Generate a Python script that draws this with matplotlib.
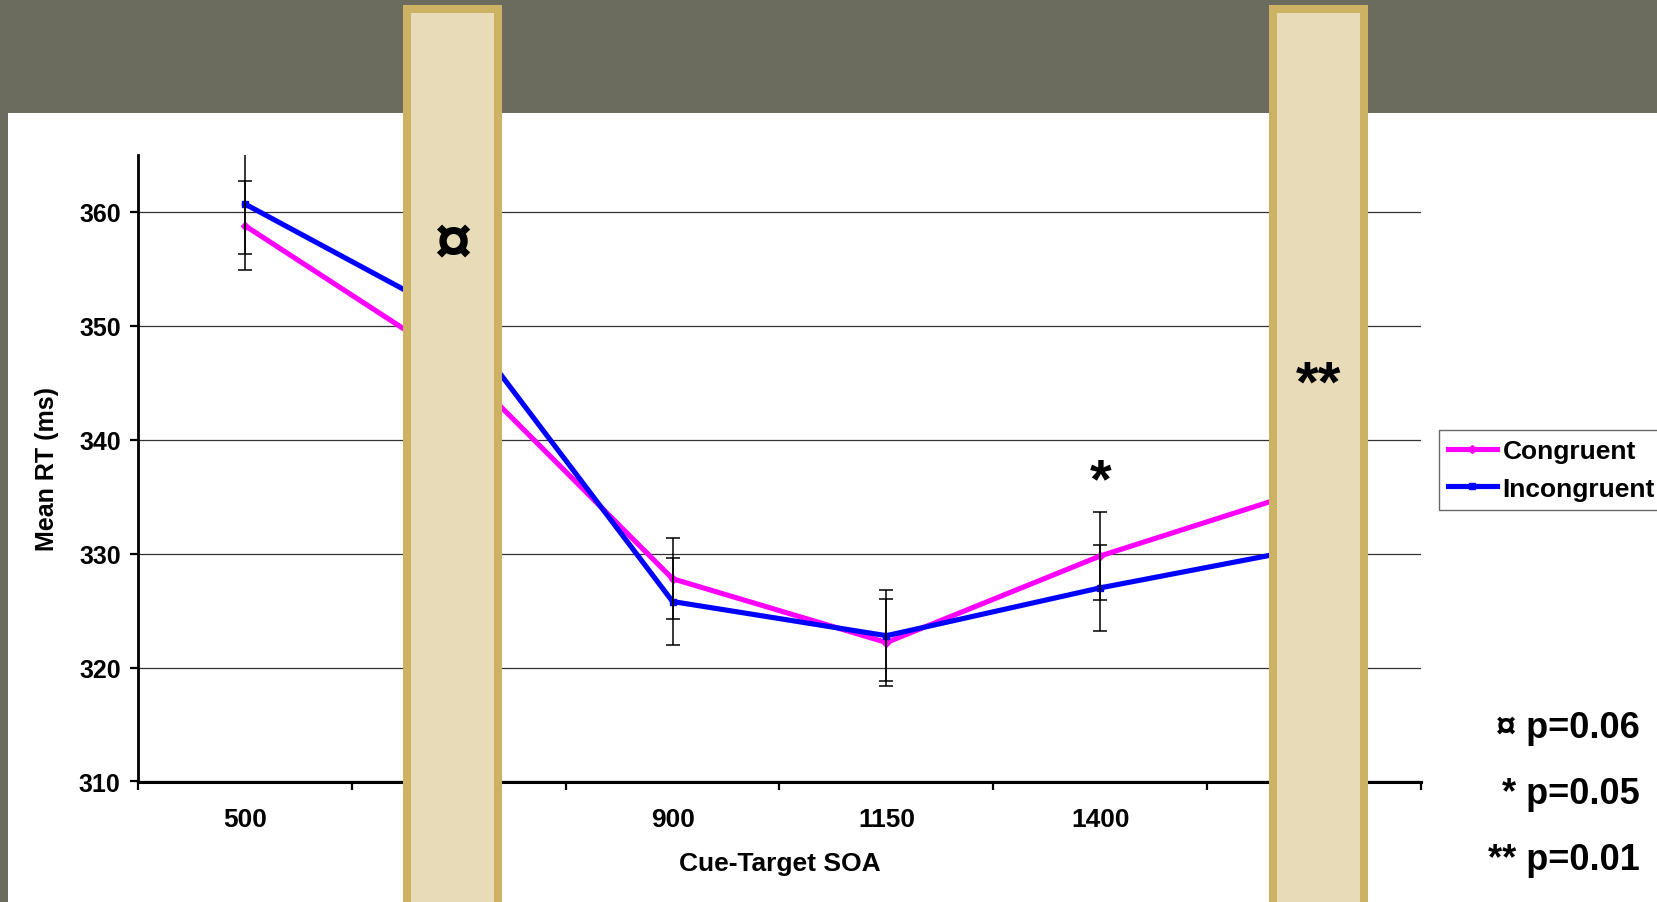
import matplotlib
matplotlib.use("Agg")
import matplotlib.pyplot as plt
from matplotlib.patches import Rectangle
from matplotlib.ticker import FixedLocator, NullFormatter

plt.rcParams["font.family"] = ["Liberation Sans", "DejaVu Sans"]
plt.rcParams["font.weight"] = "bold"

# Mean reaction times (ms) per cue-target SOA
soa_labels = ["500", "650", "900", "1150", "1400", "1650"]
congruent = [358.8, 346.6, 327.8, 322.2, 329.8, 335.8]
incongruent = [360.7, 350.6, 325.8, 322.8, 327.0, 330.6]
congruent_err = [3.9, 3.9, 3.55, 3.85, 3.85, 3.9]
incongruent_err = [4.4, 4.0, 3.85, 4.0, 3.75, 4.0]
series_names = ["Congruent", "Incongruent"]
y_ticks = [310, 320, 330, 340, 350, 360]
p_notes = ["\u00a4 p=0.06", "* p=0.05", "** p=0.01"]

W, H = 1657, 903
fig = plt.figure(figsize=(W / 100, H / 100), dpi=100)
fig.patch.set_facecolor("white")

def fx(px):
    return px / W

def fy(py):
    return 1 - py / H

# slide background: dark band on top and a thin strip on the left
band = "#6b6c5e"
fig.add_artist(Rectangle((0, fy(114)), 1, 114 / H, transform=fig.transFigure,
                         facecolor=band, edgecolor="none", zorder=-2))
fig.add_artist(Rectangle((0, 0), fx(8), 1, transform=fig.transFigure,
                         facecolor=band, edgecolor="none", zorder=-2))

ax = fig.add_axes([fx(138), fy(782.5), fx(1421) - fx(138), fy(156) - fy(782.5)])
x = list(range(len(soa_labels)))

ax.plot(x, congruent, color="#ff00ff", lw=3.7, marker="D", ms=4, zorder=3,
        label=series_names[0])
ax.plot(x, incongruent, color="#0000ff", lw=3.7, marker="s", ms=4, zorder=3,
        label=series_names[1])
ax.errorbar(x, congruent, yerr=congruent_err, fmt="none", ecolor="black",
            elinewidth=1.1, capsize=5, capthick=1.1, zorder=4)
ax.errorbar(x, incongruent, yerr=incongruent_err, fmt="none", ecolor="black",
            elinewidth=1.1, capsize=5, capthick=1.1, zorder=4)

ax.set_xlim(-0.5, len(soa_labels) - 0.5)
ax.set_ylim(310, 365)
ax.set_yticks(y_ticks)
ax.set_yticklabels([str(v) for v in y_ticks])
ax.set_xticks(x)
ax.set_xticklabels(soa_labels)
ax.xaxis.set_minor_locator(FixedLocator([i - 0.5 for i in range(len(soa_labels) + 1)]))
ax.xaxis.set_minor_formatter(NullFormatter())

ax.tick_params(axis="x", which="major", length=0, pad=18.5, labelsize=19)
ax.tick_params(axis="x", which="minor", length=5.5, width=1.6, direction="out")
ax.tick_params(axis="y", which="major", length=5.5, width=1.6, pad=7, labelsize=18)
for lab in ax.get_xticklabels() + ax.get_yticklabels():
    lab.set_fontweight("bold")

ax.yaxis.grid(True, color="#333333", lw=0.9)
ax.set_axisbelow(True)
for s in ("top", "right"):
    ax.spines[s].set_visible(False)
ax.spines["left"].set_linewidth(2.0)
ax.spines["bottom"].set_linewidth(2.2)

ax.set_xlabel("Cue-Target SOA", fontsize=19, fontweight="bold", labelpad=14)
ax.set_ylabel("Mean RT (ms)", fontsize=18, fontweight="bold", labelpad=14)

ax.text(4, 336.3, "*", fontsize=40, fontweight="bold", ha="center", va="center",
        zorder=5)

leg = ax.legend(loc="upper left", bbox_to_anchor=(fx(1439), fy(431)),
                bbox_transform=fig.transFigure, borderaxespad=0,
                frameon=True, fancybox=False, handlelength=1.85,
                handletextpad=0.22, borderpad=0.34, labelspacing=0.52,
                prop={"weight": "bold", "size": 19})
leg.get_frame().set_edgecolor("#444444")
leg.get_frame().set_linewidth(1.0)

# highlighted columns over the 650 and 1650 conditions
tan_fill, tan_edge, edge_px = "#e8dcb8", "#cdb264", 8
for left, right, mark, my, size in [(403.3, 501.7, "\u00a4", 246.5, 48),
                                    (1269, 1367.7, "**", 386.6, 42)]:
    r = Rectangle((fx(left + edge_px / 2), fy(H + 20)),
                  fx(right - left - edge_px), fy(6 + edge_px / 2) - fy(H + 20),
                  transform=fig.transFigure, facecolor=tan_fill,
                  edgecolor=tan_edge, lw=edge_px * 0.72, zorder=5)
    fig.add_artist(r)
    fig.text(fx((left + right) / 2), fy(my), mark, fontsize=size, fontweight="bold",
             ha="center", va="center", zorder=6)

for note, py in zip(p_notes, [729, 795, 861]):
    fig.text(fx(1640), fy(py), note, fontsize=26, fontweight="bold",
             ha="right", va="center")

fig.savefig("out.png", dpi=100, facecolor="white")
